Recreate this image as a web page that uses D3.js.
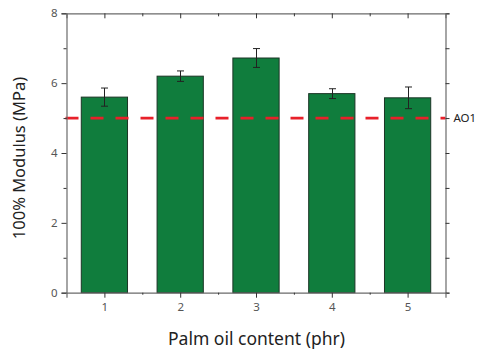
<!DOCTYPE html>
<html>
<head>
<meta charset="utf-8">
<script src="https://cdn.jsdelivr.net/npm/d3@7"></script>
<style>
  html, body { margin: 0; padding: 0; background: #fff; }
  svg { display: block; }
  text { font-family: "Noto Sans", "Open Sans", sans-serif; }
</style>
</head>
<body>
<svg id="chart" width="477" height="351"></svg>
<script>
// Palm oil content (phr) vs. 100% modulus
const categories = [1, 2, 3, 4, 5];
const modulus = [5.60, 6.20, 6.72, 5.70, 5.58];
const modulusErr = [0.26, 0.15, 0.27, 0.14, 0.31];
const yTicks = [0, 2, 4, 6, 8];
const yMinorTicks = [1, 3, 5, 7];
const xMinorTicks = [1.5, 2.5, 3.5, 4.5];
const referenceValue = 5;
const referenceLabel = "AO1";

const svg = d3.select("#chart");
const m = { left: 66.5, right: 445.5, top: 13.3, bottom: 292.7 };

const x = d3.scaleLinear().domain([0.5, 5.5]).range([m.left, m.right]);
const y = d3.scaleLinear().domain([0, 8]).range([m.bottom, m.top]);

const axisColor = "#6b6b6b";
const barWidth = x(0.61) - x(0);

// Bars
svg.append("g").selectAll("rect")
  .data(categories)
  .join("rect")
  .attr("x", (d) => x(d) - barWidth / 2)
  .attr("y", (d, i) => y(modulus[i]))
  .attr("width", barWidth)
  .attr("height", (d, i) => y(0) - y(modulus[i]))
  .attr("fill", "#107d3d")
  .attr("stroke", "#1c3526")
  .attr("stroke-width", 1);

// Error bars
const eb = svg.append("g").attr("stroke", "#222").attr("stroke-width", 1);
categories.forEach((c, i) => {
  const cx = Math.round(x(c)) + 0.5;
  const hi = y(modulus[i] + modulusErr[i]);
  const lo = y(modulus[i] - modulusErr[i]);
  eb.append("line").attr("x1", cx).attr("x2", cx).attr("y1", hi).attr("y2", lo);
  eb.append("line").attr("x1", cx - 3.5).attr("x2", cx + 3.5).attr("y1", hi).attr("y2", hi);
  eb.append("line").attr("x1", cx - 3.5).attr("x2", cx + 3.5).attr("y1", lo).attr("y2", lo);
});

// Reference line
svg.append("line")
  .attr("x1", m.left - 1).attr("x2", m.right)
  .attr("y1", y(referenceValue)).attr("y2", y(referenceValue))
  .attr("stroke", "#e8202a")
  .attr("stroke-width", 2.6)
  .attr("stroke-dasharray", "13,12");

svg.append("text")
  .attr("x", m.right + 8)
  .attr("y", y(referenceValue))
  .attr("dy", "0.35em")
  .attr("font-size", 11.5)
  .attr("fill", "#222")
  .text(referenceLabel);

// Axes
function styleAxis(g) {
  g.selectAll(".domain").attr("stroke", axisColor).attr("stroke-width", 1.2);
  g.selectAll(".tick line").attr("stroke", "#333");
  g.selectAll(".tick text").attr("fill", "#555").attr("font-size", 11.5)
    .attr("font-family", '"Noto Sans", sans-serif');
}

// left
svg.append("g").attr("transform", `translate(${m.left},0)`)
  .call(d3.axisLeft(y).tickValues(yTicks).tickSize(5).tickPadding(4).tickFormat(d3.format("d")))
  .call(styleAxis);
svg.append("g").attr("transform", `translate(${m.left},0)`)
  .call(d3.axisLeft(y).tickValues(yMinorTicks).tickSize(3).tickFormat(""))
  .call(styleAxis).call((g) => g.select(".domain").remove());

// right
svg.append("g").attr("transform", `translate(${m.right},0)`)
  .call(d3.axisRight(y).tickValues(yTicks).tickSize(4).tickFormat(""))
  .call(styleAxis);
svg.append("g").attr("transform", `translate(${m.right},0)`)
  .call(d3.axisRight(y).tickValues(yMinorTicks).tickSize(4).tickFormat(""))
  .call(styleAxis).call((g) => g.select(".domain").remove());

// bottom
svg.append("g").attr("transform", `translate(0,${m.bottom})`)
  .call(d3.axisBottom(x).tickValues(categories).tickSize(5).tickPadding(5).tickFormat(d3.format("d")))
  .call(styleAxis);
svg.append("g").attr("transform", `translate(0,${m.bottom})`)
  .call(d3.axisBottom(x).tickValues(xMinorTicks).tickSize(2).tickFormat(""))
  .call(styleAxis).call((g) => g.select(".domain").remove());

// top
svg.append("g").attr("transform", `translate(0,${m.top})`)
  .call(d3.axisBottom(x).tickValues(categories).tickSize(5).tickFormat(""))
  .call(styleAxis);
svg.append("g").attr("transform", `translate(0,${m.top})`)
  .call(d3.axisBottom(x).tickValues(xMinorTicks).tickSize(3).tickFormat(""))
  .call(styleAxis).call((g) => g.select(".domain").remove());

// Axis titles
svg.append("text")
  .attr("x", 256.5)
  .attr("y", 345)
  .attr("text-anchor", "middle")
  .attr("font-size", 17.5)
  .attr("fill", "#222")
  .text("Palm oil content (phr)");

svg.append("text")
  .attr("transform", `translate(25,158) rotate(-90)`)
  .attr("text-anchor", "middle")
  .attr("font-size", 16.5)
  .attr("fill", "#222")
  .text("100% Modulus (MPa)");
</script>
</body>
</html>
